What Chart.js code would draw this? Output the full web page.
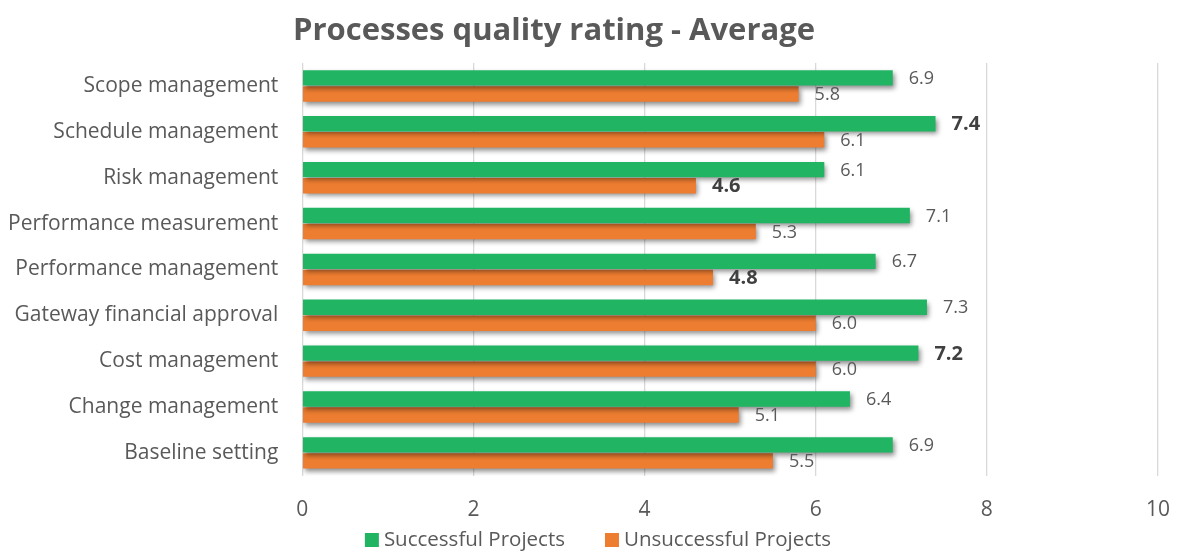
<!DOCTYPE html>
<html>
<head>
<meta charset="utf-8">
<script src="https://cdn.jsdelivr.net/npm/chart.js@4/dist/chart.umd.min.js"></script>
<style>
html,body{margin:0;padding:0;background:#fff;}
#wrap{width:1179px;height:551px;position:relative;}
</style>
</head>
<body>
<div id="wrap"><canvas id="c" width="1179" height="551"></canvas></div>
<script>
const chartTitle = 'Processes quality rating - Average';
const categories = ['Scope management','Schedule management','Risk management','Performance measurement','Performance management','Gateway financial approval','Cost management','Change management','Baseline setting'];
const seriesNames = ['Successful Projects','Unsuccessful Projects'];
const successful = [6.9, 7.4, 6.1, 7.1, 6.7, 7.3, 7.2, 6.4, 6.9];
const unsuccessful = [5.8, 6.1, 4.6, 5.3, 4.8, 6.0, 6.0, 5.1, 5.5];
const xTicks = [0, 2, 4, 6, 8, 10];
// [datasetIndex, categoryIndex] of labels shown in bold
const emphasized = [[0,1],[0,6],[1,2],[1,4]];

const TEXT = '#595959';
const FONT = '"Open Sans", Lato, sans-serif';

const shadowPlugin = {
  id: 'shadow',
  beforeDatasetsDraw(chart) {
    const ctx = chart.ctx;
    ctx.save();
    ctx.shadowColor = 'rgba(0,0,0,0.45)';
    ctx.shadowBlur = 5;
    ctx.shadowOffsetX = 2;
    ctx.shadowOffsetY = 3;
  },
  afterDatasetsDraw(chart) {
    chart.ctx.restore();
  }
};

const labelPlugin = {
  id: 'valueLabels',
  afterDatasetsDraw(chart) {
    const ctx = chart.ctx;
    ctx.save();
    ctx.textBaseline = 'middle';
    ctx.textAlign = 'left';
    chart.data.datasets.forEach((ds, di) => {
      const meta = chart.getDatasetMeta(di);
      meta.data.forEach((el, i) => {
        const bold = emphasized.some(e => e[0] === di && e[1] === i);
        ctx.font = (bold ? 'bold 20px ' : '18px ') + FONT;
        ctx.fillStyle = bold ? '#404040' : TEXT;
        ctx.fillText(ds.data[i].toFixed(1), el.x + 16, el.y + 1);
      });
    });
    ctx.restore();
  }
};

const titleLegendPlugin = {
  id: 'customTitleLegend',
  afterDraw(chart) {
    const ctx = chart.ctx;
    ctx.save();
    ctx.font = 'bold 31px ' + FONT;
    ctx.fillStyle = TEXT;
    ctx.textAlign = 'center';
    ctx.textBaseline = 'alphabetic';
    ctx.fillText(chartTitle, 554, 40);

    // legend
    ctx.font = '20.5px ' + FONT;
    ctx.textAlign = 'left';
    ctx.textBaseline = 'middle';
    const box = 14, boxGap = 5, itemGap = 40, cy = 540;
    const items = chart.data.datasets.map(ds => ({ text: ds.label, color: ds.backgroundColor, w: ctx.measureText(ds.label).width }));
    const total = items.reduce((s, it) => s + box + boxGap + it.w, 0) + itemGap * (items.length - 1);
    let x = 598 - total / 2;
    items.forEach(it => {
      ctx.fillStyle = it.color;
      ctx.fillRect(x, cy - box / 2, box, box);
      ctx.fillStyle = TEXT;
      ctx.fillText(it.text, x + box + boxGap, cy);
      x += box + boxGap + it.w + itemGap;
    });
    ctx.restore();
  }
};

new Chart(document.getElementById('c'), {
  type: 'bar',
  data: {
    labels: categories,
    datasets: [
      { label: seriesNames[0], data: successful, backgroundColor: '#21b563', borderWidth: 0 },
      { label: seriesNames[1], data: unsuccessful, backgroundColor: '#ed7d31', borderWidth: 0 }
    ]
  },
  options: {
    indexAxis: 'y',
    responsive: false,
    animation: false,
    devicePixelRatio: 1,
    layout: { padding: { top: 63, left: -8, right: 21, bottom: 6 } },
    datasets: { bar: { categoryPercentage: 0.7, barPercentage: 0.96 } },
    scales: {
      x: {
        min: 0, max: 10,
        afterBuildTicks(axis) { axis.ticks = xTicks.map(v => ({ value: v })); },
        afterFit(axis) { axis.paddingRight = 0; axis.paddingLeft = 0; },
        grid: { color: '#d9d9d9', lineWidth: 1.3, drawTicks: false },
        border: { display: false },
        ticks: { color: TEXT, font: { family: FONT, size: 21 }, padding: 22 }
      },
      y: {
        grid: { display: false },
        border: { display: false },
        ticks: { color: TEXT, font: { family: FONT, size: 21 }, padding: 16 }
      }
    },
    plugins: {
      title: { display: false },
      tooltip: { enabled: false },
      legend: { display: false }
    }
  },
  plugins: [shadowPlugin, labelPlugin, titleLegendPlugin]
});
</script>
</body>
</html>
